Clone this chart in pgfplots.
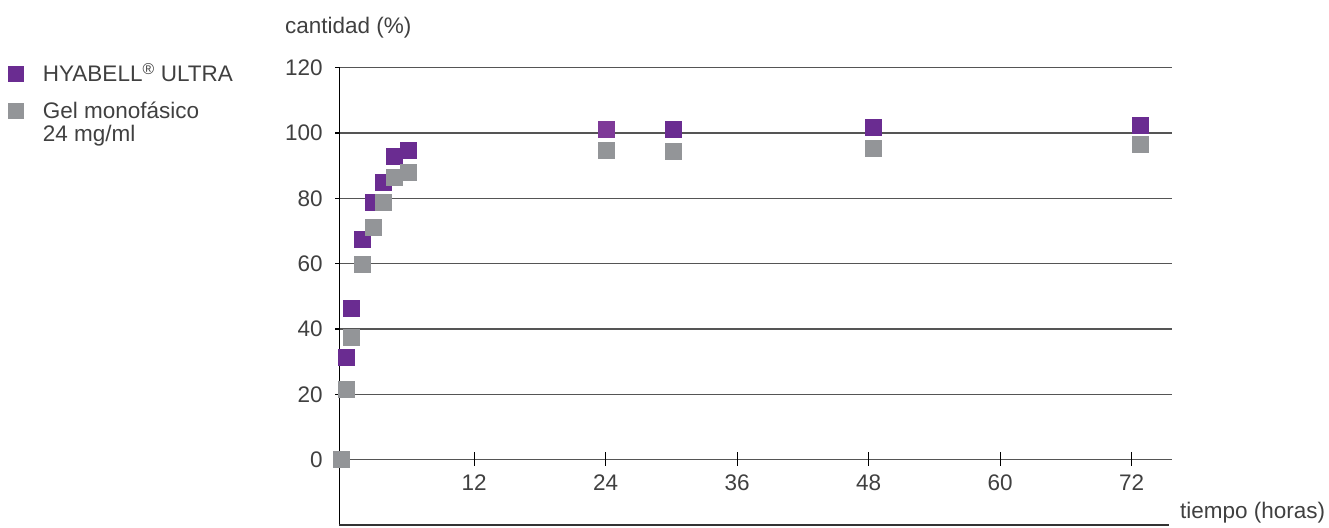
\documentclass[border=0pt]{standalone}
\usepackage{fontspec}
\setmainfont{Liberation Sans}
\usepackage{pgfplots}
\pgfplotsset{compat=1.18}
\definecolor{hpurple}{HTML}{6A2C91}
\definecolor{hpurplel}{HTML}{7E3A98}
\definecolor{hgray}{HTML}{939598}
\definecolor{txt}{HTML}{404040}
\definecolor{gridc}{HTML}{555555}
\definecolor{bottomc}{HTML}{333333}
\begin{document}
\fontsize{22.5}{23}\selectfont
\begin{tikzpicture}
\begin{axis}[
  name=ax,
  scale only axis, width=832.4pt, height=457.4pt,
  xmin=-0.3, xmax=75.65, ymin=-20, ymax=120,
  clip=false,
  axis x line=middle, axis y line=left,
  axis line style={-},
  y axis line style={black, line width=1.3pt},
  x axis line style={gridc, line width=1.3pt},
  xtick={12,24,36,48,60,72}, ytick={0,20,40,60,80,100,120},
  major tick length=0pt,
  ymajorgrids, grid style={gridc, line width=1.3pt},
  /pgf/number format/assume math mode=true,
  ticklabel style={font=\fontsize{22.5}{23}\selectfont, text=txt},
  xticklabel style={anchor=north, inner sep=0pt, yshift=-15pt},
  yticklabel style={anchor=east, inner sep=0pt, xshift=-16.5pt},
  every axis x label/.style={at={(axis description cs:1,0)}, anchor=base west, xshift=8.3pt, yshift=6.5pt, inner sep=0pt, text=txt, font=\fontsize{22.5}{23}\selectfont},
  every axis y label/.style={at={(axis description cs:0,1)}, anchor=base west, xshift=-54.3pt, yshift=33.6pt, inner sep=0pt, text=txt, font=\fontsize{22.5}{23}\selectfont},
  xlabel={tiempo (horas)},
  ylabel={cantidad (\%)},
  legend cell align=left,
  legend style={at={(axis description cs:0,1)}, anchor=north west, xshift=-331.3pt, yshift=4.6pt,
    draw=none, fill=none, inner sep=0pt, column sep=18.7pt, row sep=16.7pt,
    cells={anchor=base west},
    nodes={inner sep=0pt, text=txt, font=\fontsize{22.5}{23}\selectfont}},
  legend image code/.code={\fill[#1,draw=none] (0pt,-0.3pt) rectangle (16pt,15.7pt);},
]
% tick marks of the x axis (crossing the 0 line) and of the y axis (left of it)
\addplot[forget plot, only marks, mark=|, mark size=6.9pt, mark options={draw=black, line width=1.2pt}]
  coordinates {(12,0.2) (24,0.2) (36,0.2) (48,0.2) (60,0.2) (72,0.2)};
\addplot[forget plot, only marks, mark=-, mark size=2.6pt, mark options={draw=black, line width=1.2pt}]
  coordinates {(-0.5,0) (-0.5,20) (-0.5,40) (-0.5,60) (-0.5,80) (-0.5,100) (-0.5,120)};
\addplot+[only marks, mark=square*, color=hpurple, mark size=8pt, mark options={draw=none, fill=hpurple}]
  coordinates {(-0.1,0) (0.33,31.3) (0.8,46.3) (1.8,67.6) (2.8,78.8) (3.7,85) (4.7,93) (6.0,94.7) (30.15,101.1) (48.4,101.8) (72.75,102.4)};
\addlegendentry{HYABELL\textsuperscript{®} ULTRA}
\addplot+[only marks, mark=square*, color=hgray, mark size=8pt, mark options={draw=none, fill=hgray}]
  coordinates {(-0.1,0) (0.33,21.6) (0.8,37.6) (1.8,59.8) (2.8,71.2) (3.7,78.9) (4.7,86.4) (6.0,88) (24.05,94.7) (30.15,94.4) (48.4,95.4) (72.75,96.6)};
\addlegendentry{\vtop{\baselineskip=23pt\hbox{Gel monofásico}\hbox{24 mg/ml}}}
\addplot+[forget plot, only marks, mark=square*, color=hpurplel, mark size=8pt, mark options={draw=none, fill=hpurplel}]
  coordinates {(24.05,101.1)};
\draw[bottomc, line width=1.5pt] (axis cs:-0.3,-20) -- (axis cs:75.4,-20);
\end{axis}
\pgfresetboundingbox
\path ([xshift=-339.3pt,yshift=-2pt]ax.south west) rectangle ([xshift=989.7pt,yshift=525pt]ax.south west);
\end{tikzpicture}
\end{document}
